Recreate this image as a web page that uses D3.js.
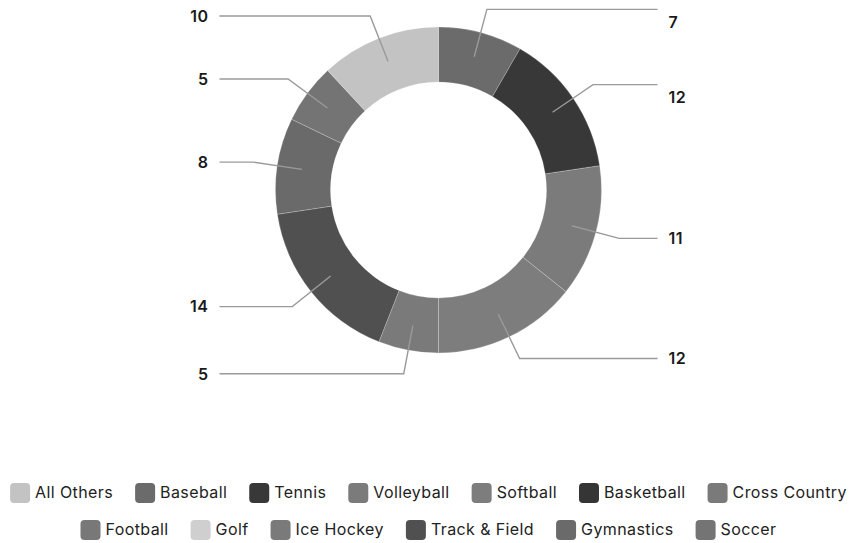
<!DOCTYPE html>
<html>
<head>
<meta charset="utf-8">
<script src="https://cdn.jsdelivr.net/npm/d3@7"></script>
<style>
  html, body { margin: 0; padding: 0; background: #fff; }
  svg { display: block; }
  text { font-family: Inter, "Noto Sans", sans-serif; fill: #1a1a1a; }
</style>
</head>
<body>
<svg id="chart" width="857" height="543"></svg>
<script>
// Categories in legend order
const categories = ["All Others", "Baseball", "Tennis", "Volleyball", "Softball", "Basketball",
  "Cross Country", "Football", "Golf", "Ice Hockey", "Track & Field", "Gymnastics", "Soccer"];
// Values read from the chart labels (0 = no visible slice)
const values = [10, 7, 12, 11, 12, 0, 5, 0, 0, 0, 14, 8, 5];
// Grayscale colours as seen in the legend
const colors = ["#c3c3c3", "#6b6b6b", "#383838", "#7b7b7b", "#7d7d7d", "#353535",
  "#7a7a7a", "#787878", "#cfcfcf", "#7a7a7a", "#505050", "#6a6a6a", "#747474"];
// The "All Others" slice is drawn last in the ring
const otherName = "All Others";

const W = 857, H = 543;
const cx = 438.5, cy = 190;
const rOuter = 163, rInner = 108;

const svg = d3.select("#chart");
const color = d3.scaleOrdinal().domain(categories).range(colors);

const rows = categories.map((c, i) => ({ name: c, value: values[i] }))
  .filter(d => d.value > 0);
const pieData = rows.filter(d => d.name !== otherName).concat(rows.filter(d => d.name === otherName));

const pie = d3.pie().sort(null).value(d => d.value);
const arcs = pie(pieData);
const arc = d3.arc().innerRadius(rInner).outerRadius(rOuter);

const g = svg.append("g").attr("transform", `translate(${cx},${cy})`);

g.selectAll("path.slice").data(arcs).join("path")
  .attr("class", "slice")
  .attr("d", arc)
  .attr("fill", d => color(d.data.name))
  .attr("stroke", "#ffffff")
  .attr("stroke-opacity", 0.35)
  .attr("stroke-width", 0.6);

// leader lines + labels
const rStart = 138, rElbow = 187, hReach = 219, labelGap = 11, upperRightDrop = 14;
arcs.forEach(d => {
  const a = (d.startAngle + d.endAngle) / 2;
  const sx = Math.sin(a) * rStart, sy = -Math.cos(a) * rStart;
  const ex = Math.sin(a) * rElbow, ey = -Math.cos(a) * rElbow;
  const right = Math.sin(a) >= 0;
  const hx = right ? hReach : -hReach;
  g.append("polyline")
    .attr("points", [[sx, sy], [ex, ey], [hx, ey]].map(p => p.join(",")).join(" "))
    .attr("fill", "none")
    .attr("stroke", "#9a9a9a")
    .attr("stroke-width", 1.4);
  const drop = (right && ey < 0) ? upperRightDrop : 1.5;
  g.append("text")
    .attr("x", right ? hx + labelGap : hx - labelGap)
    .attr("y", ey + drop)
    .attr("dominant-baseline", "middle")
    .attr("text-anchor", right ? "start" : "end")
    .style("font-size", "16px")
    .style("font-weight", 600)
    .style("letter-spacing", "0.5px")
    .text(d.value);
});

// legend
const legend = svg.append("g");
const sw = 20, swGap = 5, itemGap = 22, maxRowW = 850, rowY0 = 493, rowStep = 37;
const items = categories.map(c => {
  const it = legend.append("g");
  it.append("rect").attr("width", sw).attr("height", sw).attr("rx", 4).attr("ry", 4)
    .attr("y", -sw / 2).attr("fill", color(c));
  const t = it.append("text").attr("x", sw + swGap).attr("y", 1)
    .attr("dominant-baseline", "middle")
    .style("font-size", "16px").style("letter-spacing", "0.4px")
    .style("fill", "#222").text(c);
  return { g: it, w: sw + swGap + t.node().getComputedTextLength() };
});
const legendRows = [];
let cur = [], curW = 0;
items.forEach(it => {
  const add = (cur.length ? itemGap : 0) + it.w;
  if (cur.length && curW + add > maxRowW) { legendRows.push({ items: cur, w: curW }); cur = []; curW = 0; }
  curW += (cur.length ? itemGap : 0) + it.w;
  cur.push(it);
});
if (cur.length) legendRows.push({ items: cur, w: curW });
legendRows.forEach((row, ri) => {
  let x = W / 2 - row.w / 2;
  row.items.forEach(it => {
    it.g.attr("transform", `translate(${x},${rowY0 + ri * rowStep})`);
    x += it.w + itemGap;
  });
});
</script>
</body>
</html>
